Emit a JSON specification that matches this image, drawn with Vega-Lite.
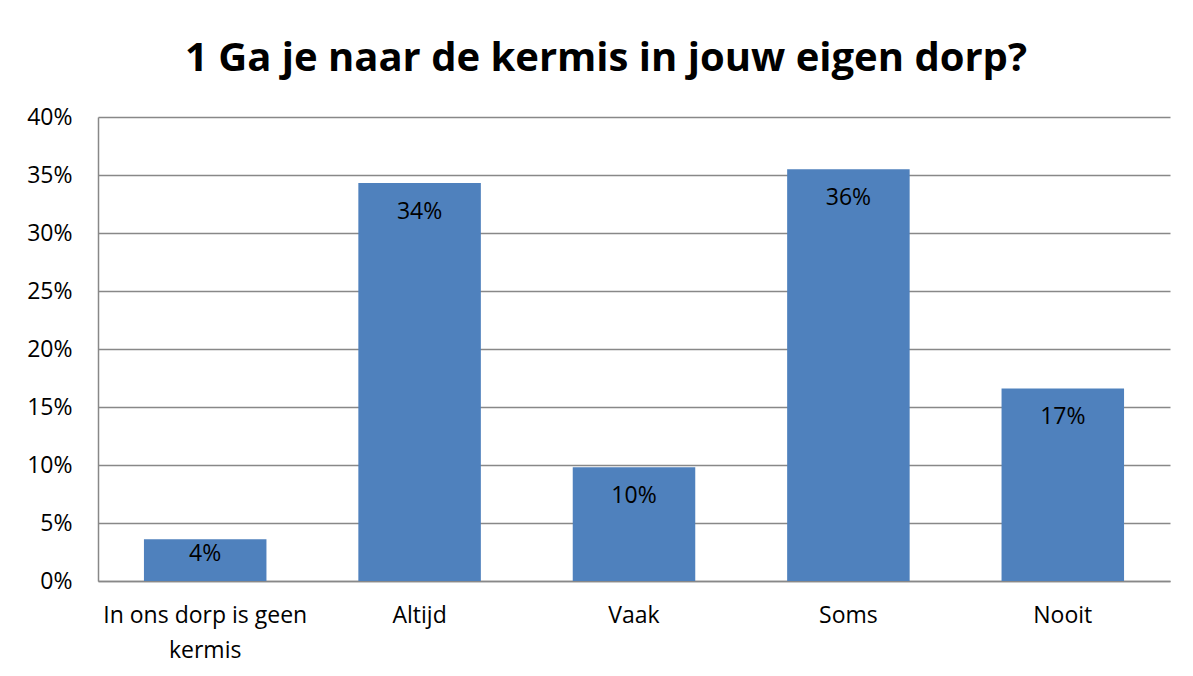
{
  "$schema": "https://vega.github.io/schema/vega-lite/v6.json",
  "autosize": "none",
  "width": 1072,
  "height": 464,
  "padding": {"left": 98, "top": 117, "right": 23, "bottom": 95},
  "background": "white",
  "title": {
    "text": "1 Ga je naar de kermis in jouw eigen dorp?",
    "font": "Open Sans",
    "fontSize": 40,
    "fontWeight": "bold",
    "color": "#000000",
    "anchor": "middle",
    "dx": -28,
    "offset": 27
  },
  "data": {
    "values": [
      {"cat": "In ons dorp is geen kermis", "value": 0.036, "label": "4%"},
      {"cat": "Altijd", "value": 0.343, "label": "34%"},
      {"cat": "Vaak", "value": 0.098, "label": "10%"},
      {"cat": "Soms", "value": 0.355, "label": "36%"},
      {"cat": "Nooit", "value": 0.166, "label": "17%"}
    ]
  },
  "config": {
    "view": {"stroke": null},
    "font": "Open Sans"
  },
  "encoding": {
    "x": {
      "field": "cat",
      "type": "nominal",
      "sort": null,
      "scale": {"paddingInner": 0.4286, "paddingOuter": 0.2143},
      "axis": {
        "title": null,
        "labelAngle": 0,
        "labelFont": "Open Sans",
        "labelFontSize": 23,
        "labelColor": "#000000",
        "labelPadding": 23,
        "labelLineHeight": 35,
        "labelLimit": 400,
        "ticks": false,
        "domainColor": "#888888",
        "domainWidth": 1.5,
        "labelExpr": "datum.value == 'In ons dorp is geen kermis' ? ['In ons dorp is geen', 'kermis'] : datum.value"
      }
    },
    "y": {
      "field": "value",
      "type": "quantitative",
      "scale": {"domain": [0, 0.4]},
      "axis": {
        "title": null,
        "format": ".0%",
        "values": [0, 0.05, 0.1, 0.15, 0.2, 0.25, 0.3, 0.35, 0.4],
        "labelFont": "Open Sans",
        "labelFontSize": 23,
        "labelColor": "#000000",
        "labelPadding": 26,
        "ticks": false,
        "gridColor": "#888888",
        "gridWidth": 1.5,
        "domainColor": "#888888",
        "domainWidth": 1.5
      }
    }
  },
  "layer": [
    {"mark": {"type": "bar", "color": "#4F81BD"}},
    {
      "transform": [{"filter": "datum.value >= 0.05"}],
      "mark": {"type": "text", "baseline": "middle", "dy": 29, "fontSize": 23, "font": "Open Sans", "color": "#000000"},
      "encoding": {"text": {"field": "label"}}
    },
    {
      "transform": [{"filter": "datum.value < 0.05"}],
      "mark": {"type": "text", "baseline": "middle", "dy": 15, "fontSize": 23, "font": "Open Sans", "color": "#000000"},
      "encoding": {"text": {"field": "label"}}
    }
  ]
}
